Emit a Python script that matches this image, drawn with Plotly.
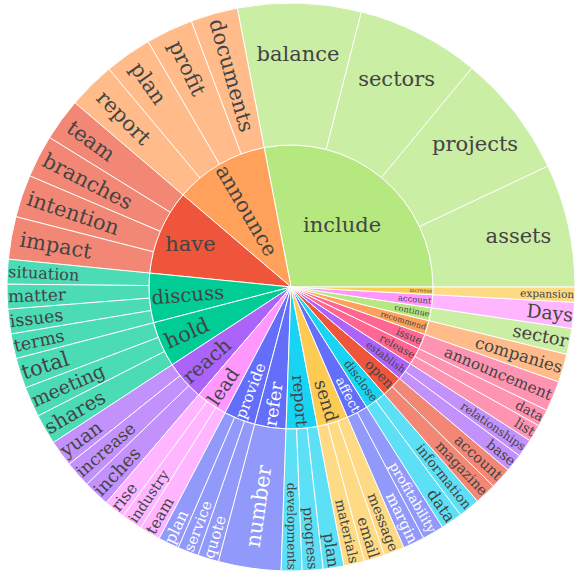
import plotly.graph_objects as go

# verbs (inner ring), in the order they go round the chart
verbs = ['include', 'announce', 'have', 'discuss', 'hold', 'reach', 'lead',
         'provide', 'refer', 'report', 'send', 'affect', 'disclose', 'open',
         'establish', 'release', 'issue', 'recommend', 'continue', 'account',
         'increase']

verb_colors = ['#B6E880', '#FFA15A', '#EF553B', '#00CC96', '#00CC96', '#AB63FA',
               '#FF97FF', '#636EFA', '#636EFA', '#19D3F3', '#FECB52', '#636EFA',
               '#19D3F3', '#EF553B', '#AB63FA', '#FF6692', '#FF6692', '#FFA15A',
               '#B6E880', '#FF97FF', '#FECB52']

# nouns (outer ring) for each verb
nouns = [
    ['assets', 'projects', 'sectors', 'balance'],
    ['documents', 'profit', 'plan', 'report'],
    ['team', 'branches', 'intention', 'impact'],
    ['situation', 'matter', 'issues', 'terms'],
    ['total', 'meeting', 'shares'],
    ['yuan', 'increase', 'inches'],
    ['rise', 'industry', 'team'],
    ['plan', 'service', 'quote'],
    ['number'],
    ['developments', 'progress', 'plan'],
    ['materials', 'email', 'message'],
    ['margin', 'profitability'],
    ['data', 'information'],
    ['magazine', 'account'],
    ['base', 'relationships'],
    ['list', 'data'],
    ['announcement'],
    ['companies'],
    ['sector'],
    ['Days'],
    ['expansion'],
]

noun_values = [
    [25.2, 25.2, 25.2, 25.2],
    [9.65, 9.65, 9.65, 9.65],
    [8.7, 8.7, 8.7, 8.7],
    [5.05, 5.05, 5.05, 5.05],
    [6.2, 6.2, 6.2],
    [5.4, 5.4, 5.4],
    [4.3, 4.3, 4.3],
    [4.28, 4.28, 4.28],
    [12.8],
    [4.25, 4.25, 4.25],
    [4.22, 4.22, 4.22],
    [4.4, 4.4],
    [4.4, 4.4],
    [4.4, 4.4],
    [3.7, 3.7],
    [3.5, 3.5],
    [6.2],
    [5.8],
    [5.3],
    [5.3],
    [3.1],
]

# build ids / parents for the sunburst
ids, labels, parents, values, colors = [], [], [], [], []
for verb, col, kids, vals in zip(verbs, verb_colors, nouns, noun_values):
    ids.append(verb)
    labels.append(verb)
    parents.append('')
    values.append(sum(vals))
    colors.append(col)
    for noun, v in zip(kids, vals):
        ids.append(verb + '/' + noun)
        labels.append(noun)
        parents.append(verb)
        values.append(v)
        colors.append(col)

# only serif face that resolves here; a bit wider than Times so size is lower
fam = 'DejaVu Serif'

fig = go.Figure(go.Sunburst(
    ids=ids, labels=labels, parents=parents, values=values,
    branchvalues='total',
    marker=dict(colors=colors, line=dict(color='white', width=1)),
    leaf=dict(opacity=0.7),
    insidetextfont=dict(family=fam, size=21),
    textfont=dict(family=fam, size=21),
    insidetextorientation='auto',
))
fig.update_layout(
    width=582, height=579,
    margin=dict(l=7, r=7, t=3, b=8),
    font=dict(family=fam, size=21, color='#444'),
    paper_bgcolor='white',
)
# page body margin off so the figure sits at the window corner
fig.write_html('out.html', config={'displayModeBar': False},
               post_script="document.body.style.margin='0';")
